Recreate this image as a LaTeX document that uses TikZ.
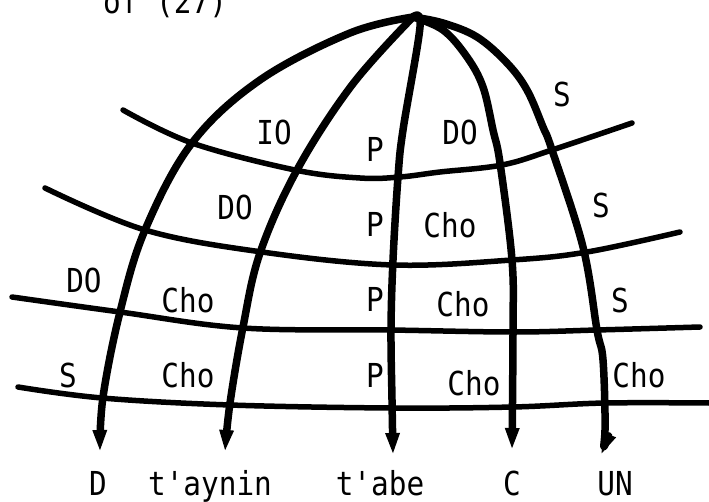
\documentclass[tikz,border=0pt]{standalone}
\usepackage{fontspec}
\setmonofont[FakeStretch=0.89]{DejaVu Sans Mono}
\usetikzlibrary{arrows.meta}
\begin{document}
\begin{tikzpicture}[x=1pt,y=-1pt,
  meridian/.style={line width=7.5pt, line cap=round, line join=round,
    -{Triangle[length=22pt,width=13pt]}},
  parallel/.style={line width=5.5pt, line cap=round, line join=round},
  lab/.style={anchor=base, inner sep=0pt, font=\ttfamily\fontsize{33}{33}\selectfont}]
\useasboundingbox (0,0) rectangle (709,502);
\coordinate (top) at (413,17);
% parallels
\draw[parallel] plot[smooth, tension=0.6] coordinates {(123,110) (192,143) (295,170) (360,178) (400,177) (440,172) (502,165) (552,150) (632,123)};
\draw[parallel] plot[smooth, tension=0.6] coordinates {(45,188) (145,230) (262,252) (393,265) (512,260) (587,252) (680,232)};
\draw[parallel] plot[smooth, tension=0.6] coordinates {(12,297) (120,312) (243,328) (390,330) (513,332) (597,330) (700,327)};
\draw[parallel] plot[smooth, tension=0.6] coordinates {(18,387) (102,398) (230,405) (392,408) (513,407) (605,403) (709,403)};
% meridians
\draw[meridian] plot[smooth, tension=0.6] coordinates {(top) (350,33) (260,80) (192,143) (145,230) (120,312) (103,397) (100,452)};
\draw[meridian] plot[smooth, tension=0.6] coordinates {(top) (352,85) (297,170) (260,253) (243,327) (230,403) (225,452)};
\draw[meridian] plot[smooth, tension=0.6] coordinates {(top) (420,27) (403,130) (398,177) (393,260) (391,330) (392,400) (393,455)};
\draw[meridian] plot[smooth, tension=0.6] coordinates {(top) (443,30) (467,57) (483,87) (493,130) (500,163) (512,260) (513,330) (512,450)};
\draw[meridian] plot[smooth, tension=0.6] coordinates {(top) (443,23) (477,37) (507,63) (527,90) (543,127) (552,150) (583,247) (597,330) (603,360) (605,430) (601,455)};
% labels
\node[lab, anchor=base west] (of) at (103,14) {of (27)};
\node[lab] (io) at (274,145) {IO};
\node[lab] (do1) at (460,145) {DO};
\node[lab] (p1) at (375,162) {P};
\node[lab] (s1) at (562,107) {S};
\node[lab] (do2) at (235,220) {DO};
\node[lab] (p2) at (375,237) {P};
\node[lab] (cho2) at (450,238) {Cho};
\node[lab] (s2) at (601,218) {S};
\node[lab] (do3) at (84,293) {DO};
\node[lab] (cho3l) at (188,313) {Cho};
\node[lab] (p3) at (375,312) {P};
\node[lab] (cho3r) at (463,317) {Cho};
\node[lab] (s3) at (620,313) {S};
\node[lab] (s4) at (68,387) {S};
\node[lab] (cho4l) at (188,387) {Cho};
\node[lab] (p4) at (375,387) {P};
\node[lab] (cho4m) at (474,395) {Cho};
\node[lab] (cho4r) at (639,387) {Cho};
\node[lab] (d) at (98,495) {D};
\node[lab] (taynin) at (210,495) {t'aynin};
\node[lab] (tabe) at (380,495) {t'abe};
\node[lab] (c) at (512,495) {C};
\node[lab] (un) at (615,495) {UN};
\end{tikzpicture}
\end{document}
